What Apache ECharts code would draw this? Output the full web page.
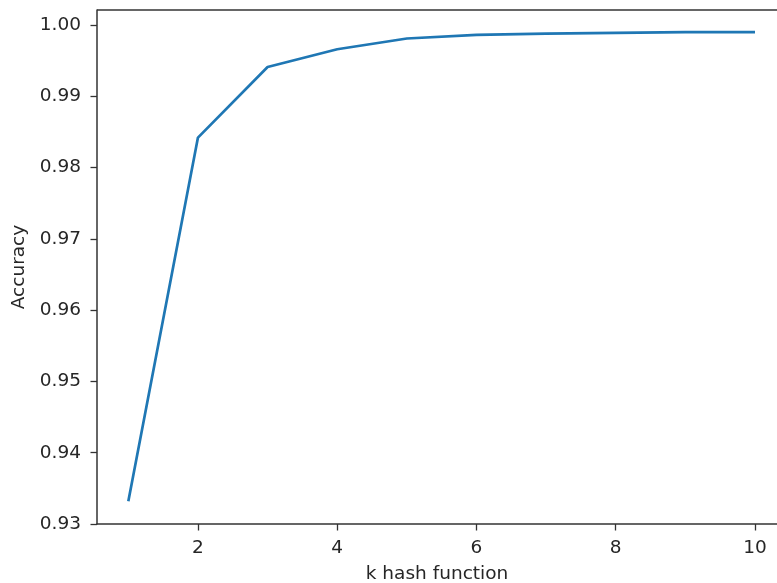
<!DOCTYPE html>
<html>
<head>
<meta charset="utf-8">
<script src="https://cdn.jsdelivr.net/npm/echarts@6/dist/echarts.min.js"></script>
<style>
  html, body { margin: 0; padding: 0; background: #fff; }
  #chart { width: 777px; height: 583px; }
</style>
</head>
<body>
<div id="chart"></div>
<script>
var kValues = [1, 2, 3, 4, 5, 6, 7, 8, 9, 10];
var accuracy = [0.9332, 0.9842, 0.9941, 0.9966, 0.9981, 0.9986, 0.9988, 0.9989, 0.9990, 0.9990];
var xTicks = [2, 4, 6, 8, 10];
var yTicks = [0.93, 0.94, 0.95, 0.96, 0.97, 0.98, 0.99, 1.00];

var chart = echarts.init(document.getElementById('chart'));
var textColor = '#262626';
var font = 'DejaVu Sans';

var option = {
  animation: false,
  grid: { left: 97, right: 0, top: 10, bottom: 59, outerBoundsMode: 'none' },
  xAxis: {
    type: 'value',
    min: 0.55,
    max: 10.316,
    name: 'k hash function',
    nameLocation: 'middle',
    nameGap: 41,
    nameTextStyle: { color: textColor, fontSize: 18.5, fontFamily: font },
    axisLine: { onZero: false, lineStyle: { color: '#333', width: 1.5 } },
    axisTick: { show: true, length: 6.5, customValues: xTicks, lineStyle: { color: '#333', width: 1.3 } },
    axisLabel: { customValues: xTicks, color: textColor, fontSize: 18.5, fontFamily: font, margin: 15 },
    splitLine: { show: false }
  },
  yAxis: {
    type: 'value',
    min: 0.93,
    max: 1.0021,
    name: 'Accuracy',
    nameLocation: 'middle',
    nameGap: 65,
    nameTextStyle: { color: textColor, fontSize: 18.5, fontFamily: font },
    axisLine: { show: true, lineStyle: { color: '#333', width: 1.5 } },
    axisTick: { show: true, length: 6.5, customValues: yTicks, lineStyle: { color: '#333', width: 1.3 } },
    axisLabel: {
      customValues: yTicks, color: textColor, fontSize: 18.5, fontFamily: font, margin: 16,
      formatter: function (v) { return v.toFixed(2); }
    },
    splitLine: { show: false }
  },
  series: [{
    type: 'line',
    data: kValues.map(function (k, i) { return [k, accuracy[i]]; }),
    showSymbol: false,
    lineStyle: { color: '#1f77b4', width: 2.7 }
  }],
  graphic: [{
    type: 'line',
    shape: { x1: 97, y1: 10, x2: 777, y2: 10 },
    style: { stroke: '#333', lineWidth: 1.5 }
  }]
};
chart.setOption(option);
</script>
</body>
</html>
